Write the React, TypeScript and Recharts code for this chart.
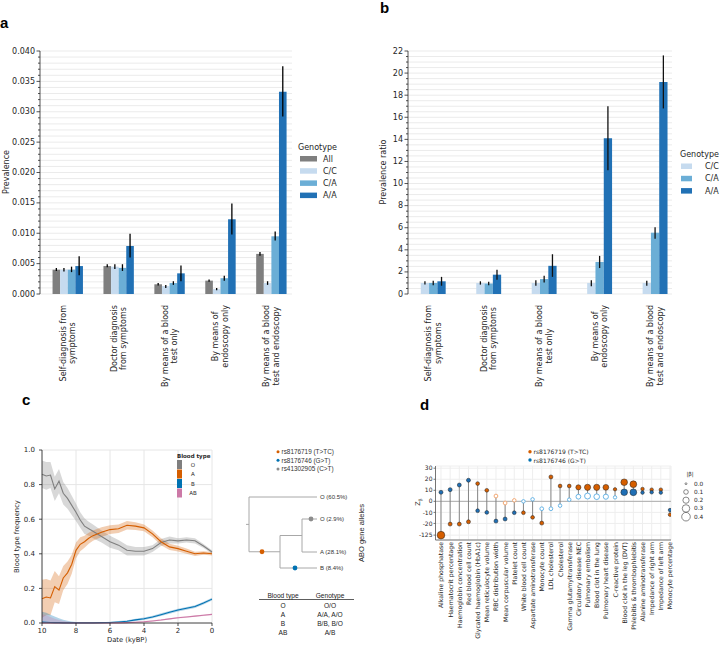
import React from 'react'
import {
  BarChart, Bar, ErrorBar, XAxis, YAxis, CartesianGrid,
  ComposedChart, Area, Line, ScatterChart, Scatter, ReferenceLine,
} from 'recharts'

const SANS = '"DejaVu Sans", sans-serif'
const ARIAL = '"Liberation Sans", Arial, sans-serif'
const INK = '#262626'

// ---------- a / b : diagnosis method x genotype ----------
const methodLabels = [
  ['Self-diagnosis from', 'symptoms'],
  ['Doctor diagnosis', 'from symptoms'],
  ['By means of a blood', 'test only'],
  ['By means of', 'endoscopy only'],
  ['By means of a blood', 'test and endoscopy'],
]
const genotypeNames = ['All', 'C/C', 'C/A', 'A/A']
const genotypeColors = ['#7f7f7f', '#c6dbef', '#6baed6', '#2171b5']

const prevAll = [0.0040, 0.0046, 0.0016, 0.0022, 0.0066]
const prevAllLo = [0.0038, 0.0044, 0.0014, 0.0020, 0.0063]
const prevAllHi = [0.0043, 0.0049, 0.0018, 0.0024, 0.0069]
const prevCC = [0.0040, 0.0045, 0.0013, 0.0008, 0.0018]
const prevCCLo = [0.0037, 0.0041, 0.0010, 0.0006, 0.0015]
const prevCCHi = [0.0043, 0.0049, 0.0015, 0.0010, 0.0021]
const prevCA = [0.0040, 0.0043, 0.0018, 0.0026, 0.0095]
const prevCALo = [0.0036, 0.0038, 0.0015, 0.0022, 0.0088]
const prevCAHi = [0.0045, 0.0049, 0.0021, 0.0030, 0.0103]
const prevAA = [0.0046, 0.0079, 0.0034, 0.0123, 0.0333]
const prevAALo = [0.0031, 0.0060, 0.0021, 0.0098, 0.0292]
const prevAAHi = [0.0062, 0.0099, 0.0047, 0.0149, 0.0375]

const ratioCC = [1.0, 1.0, 1.0, 1.0, 1.0]
const ratioCCLo = [0.85, 0.85, 0.75, 0.7, 0.75]
const ratioCCHi = [1.15, 1.15, 1.25, 1.25, 1.2]
const ratioCA = [1.0, 0.95, 1.35, 2.9, 5.55]
const ratioCALo = [0.8, 0.8, 1.05, 2.35, 5.0]
const ratioCAHi = [1.2, 1.1, 1.65, 3.45, 6.05]
const ratioAA = [1.15, 1.75, 2.55, 14.1, 19.2]
const ratioAALo = [0.75, 1.3, 1.55, 11.2, 16.8]
const ratioAAHi = [1.55, 2.2, 3.6, 17.0, 21.6]

const prevSeries = [
  { key: 'All', color: genotypeColors[0], v: prevAll, lo: prevAllLo, hi: prevAllHi },
  { key: 'CC', color: genotypeColors[1], v: prevCC, lo: prevCCLo, hi: prevCCHi },
  { key: 'CA', color: genotypeColors[2], v: prevCA, lo: prevCALo, hi: prevCAHi },
  { key: 'AA', color: genotypeColors[3], v: prevAA, lo: prevAALo, hi: prevAAHi },
]
const ratioSeries = [
  { key: 'CC', color: genotypeColors[1], v: ratioCC, lo: ratioCCLo, hi: ratioCCHi },
  { key: 'CA', color: genotypeColors[2], v: ratioCA, lo: ratioCALo, hi: ratioCAHi },
  { key: 'AA', color: genotypeColors[3], v: ratioAA, lo: ratioAALo, hi: ratioAAHi },
]

const toRows = (series: any[]) =>
  methodLabels.map((_, i) => {
    const row: any = { x: i + 1 }
    series.forEach((s) => {
      row[s.key] = s.v[i]
      row[s.key + 'Err'] = [s.v[i] - s.lo[i], s.hi[i] - s.v[i]]
    })
    return row
  })
const prevRows = toRows(prevSeries)
const ratioRows = toRows(ratioSeries)

const ticksA = Array.from({ length: 41 }, (_, i) => +(i * 0.001).toFixed(3))
const ticksB = Array.from({ length: 45 }, (_, i) => i * 0.5)

// ---------- c : ancient blood type frequencies ----------
const dates = [10, 9.75, 9.5, 9.25, 9, 8.75, 8.5, 8.25, 8, 7.75, 7.5, 7.25, 7, 6.5, 6, 5.5, 5, 4.5, 4, 3.5, 3, 2.5, 2, 1.5, 1, 0.5, 0]
const freqO = [0.86, 0.85, 0.855, 0.775, 0.82, 0.75, 0.72, 0.68, 0.64, 0.595, 0.56, 0.545, 0.53, 0.5, 0.47, 0.45, 0.42, 0.415, 0.415, 0.43, 0.465, 0.48, 0.475, 0.48, 0.475, 0.445, 0.41]
const ciO = [0.08, 0.08, 0.075, 0.07, 0.07, 0.065, 0.06, 0.055, 0.05, 0.045, 0.045, 0.04, 0.04, 0.035, 0.035, 0.03, 0.03, 0.025, 0.025, 0.02, 0.02, 0.02, 0.015, 0.015, 0.015, 0.012, 0.01]
const freqA = [0.14, 0.15, 0.145, 0.21, 0.19, 0.26, 0.29, 0.34, 0.42, 0.455, 0.47, 0.49, 0.505, 0.525, 0.54, 0.545, 0.565, 0.56, 0.55, 0.515, 0.47, 0.44, 0.43, 0.415, 0.4, 0.405, 0.4]
const ciA = [0.11, 0.105, 0.1, 0.09, 0.08, 0.07, 0.065, 0.055, 0.045, 0.04, 0.035, 0.032, 0.03, 0.028, 0.025, 0.025, 0.025, 0.022, 0.02, 0.02, 0.02, 0.018, 0.016, 0.015, 0.012, 0.01, 0.01]
const freqB = [0.005, 0.004, 0.003, 0.002, 0.002, 0.001, 0.001, 0.001, 0.001, 0.001, 0.001, 0.001, 0.001, 0.002, 0.003, 0.006, 0.01, 0.018, 0.025, 0.035, 0.048, 0.062, 0.075, 0.085, 0.095, 0.115, 0.138]
const ciB = [0.06, 0.055, 0.045, 0.035, 0.025, 0.018, 0.012, 0.008, 0.005, 0.004, 0.003, 0.003, 0.003, 0.003, 0.004, 0.005, 0.006, 0.006, 0.007, 0.007, 0.008, 0.008, 0.008, 0.008, 0.008, 0.008, 0.008]
const freqAB = [0, 0, 0, 0, 0, 0, 0, 0, 0, 0, 0, 0, 0, 0, 0, 0.001, 0.002, 0.004, 0.007, 0.012, 0.017, 0.024, 0.03, 0.035, 0.04, 0.045, 0.05]
const ciAB = [0.05, 0.045, 0.035, 0.025, 0.018, 0.012, 0.008, 0.005, 0.003, 0.002, 0.002, 0.002, 0.002, 0.002, 0.002, 0.002, 0.003, 0.003, 0.004, 0.004, 0.004, 0.004, 0.004, 0.004, 0.004, 0.004, 0.004]

const bloodTypes = [
  { key: 'O', color: '#7f7f7f', v: freqO, ci: ciO },
  { key: 'A', color: '#D55E00', v: freqA, ci: ciA },
  { key: 'B', color: '#0072B2', v: freqB, ci: ciB },
  { key: 'AB', color: '#CC79A7', v: freqAB, ci: ciAB },
]
const ancientRows = dates.map((d, i) => {
  const row: any = { d }
  bloodTypes.forEach((b) => {
    row[b.key] = b.v[i]
    row[b.key + 'Band'] = [Math.max(0, b.v[i] - b.ci[i]), b.v[i] + b.ci[i]]
  })
  return row
})

// allele tree (leaf order top to bottom, dendrogram rows)
const alleleLeaves = [
  { label: 'O (60.5%)', row: 0 },
  { label: 'O (2.9%)', row: 22 },
  { label: 'A (28.1%)', row: 55 },
  { label: 'B (8.4%)', row: 71 },
]
const snps = [
  { name: 'rs8176719 (T>TC)', color: '#D55E00' },
  { name: 'rs8176746 (G>T)', color: '#0072B2' },
  { name: 'rs41302905 (C>T)', color: '#8c8c8c' },
]
const genotypeTable = [
  ['O', 'O/O'],
  ['A', 'A/A, A/O'],
  ['B', 'B/B, B/O'],
  ['AB', 'A/B'],
]

// ---------- d : PheWAS ----------
const traitNames = [
  'Alkaline phosphatase', 'Haematocrit percentage', 'Haemoglobin concentration', 'Red blood cell count',
  'Glycated haemoglobin (HbA1c)', 'Mean reticulocyte volume', 'RBC distribution width', 'Mean corpuscular volume',
  'Platelet count', 'White blood cell count', 'Aspartate aminotransferase', 'Monocyte count', 'LDL cholesterol',
  'Cholesterol', 'Gamma glutamyltransferase', 'Circulatory disease NEC', 'Pulmonary embolism',
  'Blood clot in the lung', 'Pulmonary heart disease', 'C-reactive protein', 'Blood clot in the leg (DVT)',
  'Phlebitis & thrombophlebitis', 'Alanine aminotransferase', 'Impedance of right arm', 'Impedance of left arm',
  'Monocyte percentage',
]
const orangeZ = [-125, -20.6, -20.6, -18.5, 16.1, 10, 4.8, -1.5, 0.9, -10.3, -14.5, -19.7, 22.1, 13.9, 13.9, 12.7, 12.7, 12.7, 12.7, 10.9, 17.3, 15.5, 11.2, 10.6, 10.6, -12.1]
const blueZ = [8.2, 10.6, 14.8, 19.1, -8.5, -10, -17.9, -16, -10.3, 0, 1.8, -6.7, -6.7, -3.9, 1.5, 4.2, 4.8, 4.2, 4.2, 3.6, 8.2, 8.2, 7.9, 8.2, 7.9, -7.9]
const orangeBeta = [0.31, 0.07, 0.07, 0.07, 0.06, 0.06, 0.06, 0.06, 0.05, 0.06, 0.06, 0.07, 0.07, 0.06, 0.06, 0.13, 0.2, 0.2, 0.17, 0.045, 0.23, 0.24, 0.05, 0.05, 0.05, 0.05]
const blueBeta = [0.07, 0.07, 0.07, 0.07, 0.06, 0.06, 0.07, 0.07, 0.06, 0.05, 0.05, 0.06, 0.06, 0.05, 0.05, 0.11, 0.18, 0.16, 0.13, 0.045, 0.23, 0.24, 0.05, 0.05, 0.05, 0.05]
const orangeSig = [1, 1, 1, 1, 1, 1, 0, 0, 0, 1, 1, 1, 1, 1, 1, 1, 1, 1, 1, 1, 1, 1, 1, 1, 1, 1]
const blueSig = [1, 1, 1, 1, 1, 1, 1, 1, 1, 0, 0, 0, 0, 0, 0, 0, 0, 0, 0, 0, 1, 1, 1, 1, 1, 1]
const betaLegend = [0.0, 0.1, 0.2, 0.3, 0.4]
const zTicks = [30, 20, 10, 0, -10, -20, -125]

// broken y axis: -125 drawn just below -20
const brk = (v: number) => (v < -100 ? v + 94.4 : v)
const betaRadius = (b: number) => Math.sqrt(0.9 + 44 * b)
const orangePts = traitNames.map((_, i) => ({ x: i + 1, y: brk(orangeZ[i]), beta: orangeBeta[i], sig: orangeSig[i] }))
const bluePts = traitNames.map((_, i) => ({ x: i + 1, y: brk(blueZ[i]), beta: blueBeta[i], sig: blueSig[i] }))

// ---------- helpers ----------
const measureCtx = typeof document !== 'undefined' ? document.createElement('canvas').getContext('2d') : null
const textWidth = (s: string, size: number) => {
  if (!measureCtx) return s.length * size * 0.56
  measureCtx.font = `${size}px "DejaVu Sans"`
  return measureCtx.measureText(s).width
}

const methodTick = (p: any) => {
  const lines = methodLabels[Math.round(p.payload.value) - 1]
  if (!lines) return <g />
  const len = Math.max(...lines.map((l) => textWidth(l, 8)))
  const cy = p.y + 11 + len / 2
  return (
    <g>
      {lines.map((l, j) => (
        <text key={j} transform={`translate(${p.x + (j - (lines.length - 1) / 2) * 9.6},${cy}) rotate(-90)`}
          textAnchor="middle" dominantBaseline="central" fontSize={8} fill={INK}>{l}</text>
      ))}
    </g>
  )
}

const minorTick = (isMajor: (v: number) => boolean, fmt: (v: number) => string) => (p: any) => {
  const v = p.payload.value
  const major = isMajor(v)
  return (
    <g>
      <line x1={p.x - (major ? 3.5 : 2)} x2={p.x} y1={p.y} y2={p.y} stroke={INK} strokeWidth={0.8} />
      {major && (
        <text x={p.x - 5} y={p.y} dominantBaseline="central" textAnchor="end" fontSize={8} fill={INK}>{fmt(v)}</text>
      )}
    </g>
  )
}
const tickA = minorTick((v) => Math.round(v * 1000) % 5 === 0, (v) => v.toFixed(3))
const tickB = minorTick((v) => Math.round(v * 2) % 4 === 0, (v) => String(Math.round(v)))

const traitTick = (p: any) => {
  const name = traitNames[Math.round(p.payload.value) - 1]
  if (!name) return <g />
  return (
    <text transform={`translate(${p.x},${p.y + 2}) rotate(-90)`} textAnchor="end" dominantBaseline="central"
      fontSize={6.2} fill={INK}>{name}</text>
  )
}

const dotShape = (color: string, hollow: string) => (p: any) => {
  const r = betaRadius(p.payload.beta)
  return p.payload.sig
    ? <circle cx={p.cx} cy={p.cy} r={r} fill={color} stroke="#222" strokeWidth={0.5} />
    : <circle cx={p.cx} cy={p.cy} r={r} fill="#fff" stroke={hollow} strokeWidth={0.9} />
}

// dendrogram from leaf rows
const n2 = (alleleLeaves[1].row + alleleLeaves[2].row) / 2
const n1 = (n2 + alleleLeaves[3].row) / 2
const root = (alleleLeaves[0].row + n1) / 2
const depth = { stub: 0, root: 3, n1: 34, n2: 56, leaf: 71 }
const treeSegments = [
  [depth.stub, root, depth.root, root],
  [depth.root, alleleLeaves[0].row, depth.root, n1],
  [depth.root, alleleLeaves[0].row, depth.leaf, alleleLeaves[0].row],
  [depth.root, n1, depth.n1, n1],
  [depth.n1, n2, depth.n1, alleleLeaves[3].row],
  [depth.n1, alleleLeaves[3].row, depth.leaf, alleleLeaves[3].row],
  [depth.n1, n2, depth.n2, n2],
  [depth.n2, alleleLeaves[1].row, depth.n2, alleleLeaves[2].row],
  [depth.n2, alleleLeaves[1].row, depth.leaf, alleleLeaves[1].row],
  [depth.n2, alleleLeaves[2].row, depth.leaf, alleleLeaves[2].row],
]
const leafPts = alleleLeaves.map((l) => ({ x: depth.leaf, y: l.row, label: l.label }))
const mutationPts = [
  { x: 16, y: n1, color: snps[0].color },
  { x: 49, y: alleleLeaves[3].row, color: snps[1].color },
  { x: 65, y: alleleLeaves[1].row, color: snps[2].color },
]

const VText = ({ x, y, size, children, family }: any) => (
  <text transform={`translate(${x},${y}) rotate(-90)`} textAnchor="middle" dominantBaseline="central"
    fontSize={size} fill={INK} fontFamily={family || SANS}>{children}</text>
)

export default function App() {
  return (
    <div style={{ position: 'absolute', left: 0, top: 0, width: 720, height: 648, background: '#fff', overflow: 'hidden', fontFamily: SANS }}>
      {/* a */}
      <div style={{ position: 'absolute', left: 0, top: 0 }}>
        <BarChart width={360} height={440} data={prevRows} margin={{ top: 51, right: 68, bottom: 0, left: 0 }} barSize={7.6} barGap={0}>
          <CartesianGrid vertical={false} stroke="#ebebeb" />
          <XAxis type="number" dataKey="x" domain={[0.45, 5.4]} allowDataOverflow ticks={[1, 2, 3, 4, 5]} interval={0}
            height={146} axisLine={false} tickLine={false} tickSize={0} tickMargin={0} tick={methodTick} />
          <YAxis type="number" domain={[0, 0.04]} allowDataOverflow ticks={ticksA} interval={0} width={40}
            axisLine={{ stroke: INK, strokeWidth: 0.8 }} tickLine={false} tickSize={0} tickMargin={0} tick={tickA} />
          {prevSeries.map((s) => (
            <Bar key={s.key} dataKey={s.key} fill={s.color} isAnimationActive={false}>
              <ErrorBar dataKey={s.key + 'Err'} width={0} stroke="#000" strokeWidth={1.3} direction="y" />
            </Bar>
          ))}
        </BarChart>
      </div>

      {/* b */}
      <div style={{ position: 'absolute', left: 360, top: 0 }}>
        <BarChart width={360} height={440} data={ratioRows} margin={{ top: 51, right: 48, bottom: 0, left: 0 }} barSize={8.3} barGap={0}>
          <CartesianGrid vertical={false} stroke="#ebebeb" />
          <XAxis type="number" dataKey="x" domain={[0.54, 5.3]} allowDataOverflow ticks={[1, 2, 3, 4, 5]} interval={0}
            height={146} axisLine={false} tickLine={false} tickSize={0} tickMargin={0} tick={methodTick} />
          <YAxis type="number" domain={[0, 22]} allowDataOverflow ticks={ticksB} interval={0} width={48}
            axisLine={{ stroke: INK, strokeWidth: 0.8 }} tickLine={false} tickSize={0} tickMargin={0} tick={tickB} />
          {ratioSeries.map((s) => (
            <Bar key={s.key} dataKey={s.key} fill={s.color} isAnimationActive={false}>
              <ErrorBar dataKey={s.key + 'Err'} width={0} stroke="#111" strokeWidth={1.3} direction="y" />
            </Bar>
          ))}
        </BarChart>
      </div>

      {/* c */}
      <div style={{ position: 'absolute', left: 0, top: 440 }}>
        <ComposedChart width={230} height={208} data={ancientRows} margin={{ top: 10, right: 18, bottom: 0, left: 0 }}>
          <CartesianGrid stroke="#e6e6e6" />
          <XAxis type="number" dataKey="d" domain={[0, 10]} reversed ticks={[10, 8, 6, 4, 2, 0]} interval={0} height={25}
            tickSize={3} tickMargin={2} tick={{ fontSize: 7, fill: INK }} axisLine={{ stroke: '#222', strokeWidth: 0.8 }}
            tickLine={{ stroke: '#222', strokeWidth: 0.8 }} />
          <YAxis type="number" domain={[0, 1]} ticks={[0, 0.2, 0.4, 0.6, 0.8, 1]} interval={0} width={42}
            tickFormatter={(v: number) => v.toFixed(1)} tickSize={3} tickMargin={4} tick={{ fontSize: 7, fill: INK }}
            axisLine={{ stroke: '#222', strokeWidth: 0.8 }} tickLine={{ stroke: '#222', strokeWidth: 0.8 }} />
          {bloodTypes.map((b) => (
            <Area key={b.key + 'Band'} type="linear" dataKey={b.key + 'Band'} stroke="none" fill={b.color}
              fillOpacity={0.3} isAnimationActive={false} />
          ))}
          {bloodTypes.map((b) => (
            <Line key={b.key} type="linear" dataKey={b.key} stroke={b.color} strokeWidth={1.1} dot={false} isAnimationActive={false} />
          ))}
        </ComposedChart>
      </div>

      {/* allele tree */}
      <div style={{ position: 'absolute', left: 246, top: 492 }}>
        <ScatterChart width={115} height={81} margin={{ top: 5, right: 44, bottom: 5, left: 0 }}>
          <XAxis type="number" dataKey="x" domain={[0, 71]} hide />
          <YAxis type="number" dataKey="y" domain={[0, 71]} reversed hide />
          {treeSegments.map((s, i) => (
            <ReferenceLine key={i} segment={[{ x: s[0], y: s[1] }, { x: s[2], y: s[3] }]} stroke="#a8a8a8" strokeWidth={1} />
          ))}
          <Scatter data={leafPts} isAnimationActive={false}
            shape={(p: any) => (
              <text x={p.cx + 3} y={p.cy} dominantBaseline="central" fontSize={6} fill="#333" fontFamily={ARIAL}>{p.payload.label}</text>
            )} />
          <Scatter data={mutationPts} isAnimationActive={false}
            shape={(p: any) => <circle cx={p.cx} cy={p.cy} r={2.4} fill={p.payload.color} />} />
        </ScatterChart>
      </div>

      {/* d */}
      <div style={{ position: 'absolute', left: 405, top: 456 }}>
        <ScatterChart width={315} height={192} margin={{ top: 10, right: 49, bottom: 0, left: 0 }}>
          <CartesianGrid stroke="#eeeeee" />
          <XAxis type="number" dataKey="x" domain={[0.4, 26.11]} allowDataOverflow
            ticks={traitNames.map((_, i) => i + 1)} interval={0} height={108}
            axisLine={{ stroke: '#555', strokeWidth: 0.8 }} tickLine={false} tickSize={0} tickMargin={0} tick={traitTick} />
          <YAxis type="number" dataKey="y" domain={[-35, 32]} allowDataOverflow ticks={zTicks.map(brk)} interval={0}
            width={30.5} tickFormatter={(v: number) => (v < -25 ? '-125' : String(v))} tickSize={2} tickMargin={1}
            tick={{ fontSize: 6, fill: INK }} axisLine={{ stroke: '#555', strokeWidth: 0.8 }}
            tickLine={{ stroke: '#555', strokeWidth: 0.8 }} />
          <ReferenceLine y={0} stroke="#9a9a9a" strokeWidth={0.8} />
          {traitNames.map((_, i) => (
            <ReferenceLine key={i} segment={[{ x: i + 1, y: brk(orangeZ[i]) }, { x: i + 1, y: brk(blueZ[i]) }]}
              stroke="#7a7a7a" strokeWidth={0.9} />
          ))}
          <Scatter data={orangePts} isAnimationActive={false} shape={dotShape('#D55E00', '#f0a068')} />
          <Scatter data={bluePts} isAnimationActive={false} shape={dotShape('#1f6fb5', '#5aaee3')} />
        </ScatterChart>
      </div>

      {/* titles, legends, table */}
      <svg width={720} height={648} style={{ position: 'absolute', left: 0, top: 0, pointerEvents: 'none' }}>
        <g fontFamily={ARIAL} fontWeight="bold" fontSize={15} fill="#000">
          <text x={0} y={28}>a</text>
          <text x={380} y={13}>b</text>
          <text x={22} y={405}>c</text>
          <text x={420} y={410}>d</text>
        </g>

        <VText x={6} y={172} size={8}>Prevalence</VText>
        <VText x={383.5} y={172} size={8}>Prevalence ratio</VText>
        <VText x={16.5} y={536.5} size={6.8}>Blood type frequency</VText>
        <text x={127} y={640} textAnchor="middle" dominantBaseline="central" fontSize={6.8} fill={INK}>Date (kyBP)</text>
        <text transform="translate(418,502) rotate(-90)" textAnchor="middle" dominantBaseline="central" fontSize={6.5} fill={INK}>
          Z<tspan fontSize={4.5} dy={1.6}>β</tspan>
        </text>

        {/* a legend */}
        <text x={298} y={147} dominantBaseline="central" fontSize={8} fill={INK}>Genotype</text>
        {genotypeNames.map((g, i) => (
          <g key={g}>
            <rect x={300} y={156 + i * 12.2} width={17} height={5.5} fill={genotypeColors[i]} />
            <text x={323} y={159 + i * 12.2} dominantBaseline="central" fontSize={8} fill={INK}>{g}</text>
          </g>
        ))}

        {/* b legend */}
        <text x={680} y={154} dominantBaseline="central" fontSize={8} fill={INK}>Genotype</text>
        {genotypeNames.slice(1).map((g, i) => (
          <g key={g}>
            <rect x={681} y={163.5 + i * 12.3} width={11} height={5.5} fill={genotypeColors[i + 1]} />
            <text x={705} y={166.5 + i * 12.3} dominantBaseline="central" fontSize={8} fill={INK}>{g}</text>
          </g>
        ))}

        {/* c legend */}
        <text x={177} y={456} dominantBaseline="central" fontSize={5.5} fontWeight="bold" fill={INK}>Blood type</text>
        {bloodTypes.map((b, i) => (
          <g key={b.key}>
            <rect x={177} y={460 + i * 9.5} width={5} height={9} fill={b.color} />
            <text x={193} y={464.5 + i * 9.5} textAnchor="middle" dominantBaseline="central" fontSize={5.5} fill={INK}>{b.key}</text>
          </g>
        ))}

        {/* tree legend */}
        {snps.map((s, i) => (
          <g key={s.name}>
            <circle cx={278} cy={451.7 + i * 8.6} r={1.5} fill={s.color} />
            <text x={281.5} y={451.7 + i * 8.6} dominantBaseline="central" fontSize={6.4} fill="#333" fontFamily={ARIAL}>{s.name}</text>
          </g>
        ))}
        <VText x={361} y={533} size={7.5} family={ARIAL}>ABO gene alleles</VText>

        {/* genotype table */}
        <g fontFamily={ARIAL} fontSize={6.6} fill="#222" textAnchor="middle">
          <text x={283} y={595} dominantBaseline="central">Blood type</text>
          <text x={330} y={595} dominantBaseline="central">Genotype</text>
          <line x1={259} x2={354} y1={599.5} y2={599.5} stroke="#333" strokeWidth={0.8} />
          {genotypeTable.map((r, i) => (
            <g key={r[0]}>
              <text x={283} y={605.5 + i * 9} dominantBaseline="central">{r[0]}</text>
              <text x={330} y={605.5 + i * 9} dominantBaseline="central">{r[1]}</text>
            </g>
          ))}
        </g>

        {/* d legends */}
        {snps.slice(0, 2).map((s, i) => (
          <g key={s.name}>
            <circle cx={530} cy={451.7 + i * 8.3} r={1.7} fill={s.color} />
            <text x={533.5} y={451.7 + i * 8.3} dominantBaseline="central" fontSize={6} fill={INK}>{s.name}</text>
          </g>
        ))}
        <text x={690} y={474} textAnchor="middle" dominantBaseline="central" fontSize={5.5} fill={INK}>|β|</text>
        {betaLegend.map((b, i) => (
          <g key={b}>
            <circle cx={686} cy={483.7 + i * 8.25} r={betaRadius(b)} fill="none" stroke="#555" strokeWidth={0.7} />
            <text x={694} y={483.7 + i * 8.25} dominantBaseline="central" fontSize={5.8} fill={INK}>{b.toFixed(1)}</text>
          </g>
        ))}
      </svg>
    </div>
  )
}
